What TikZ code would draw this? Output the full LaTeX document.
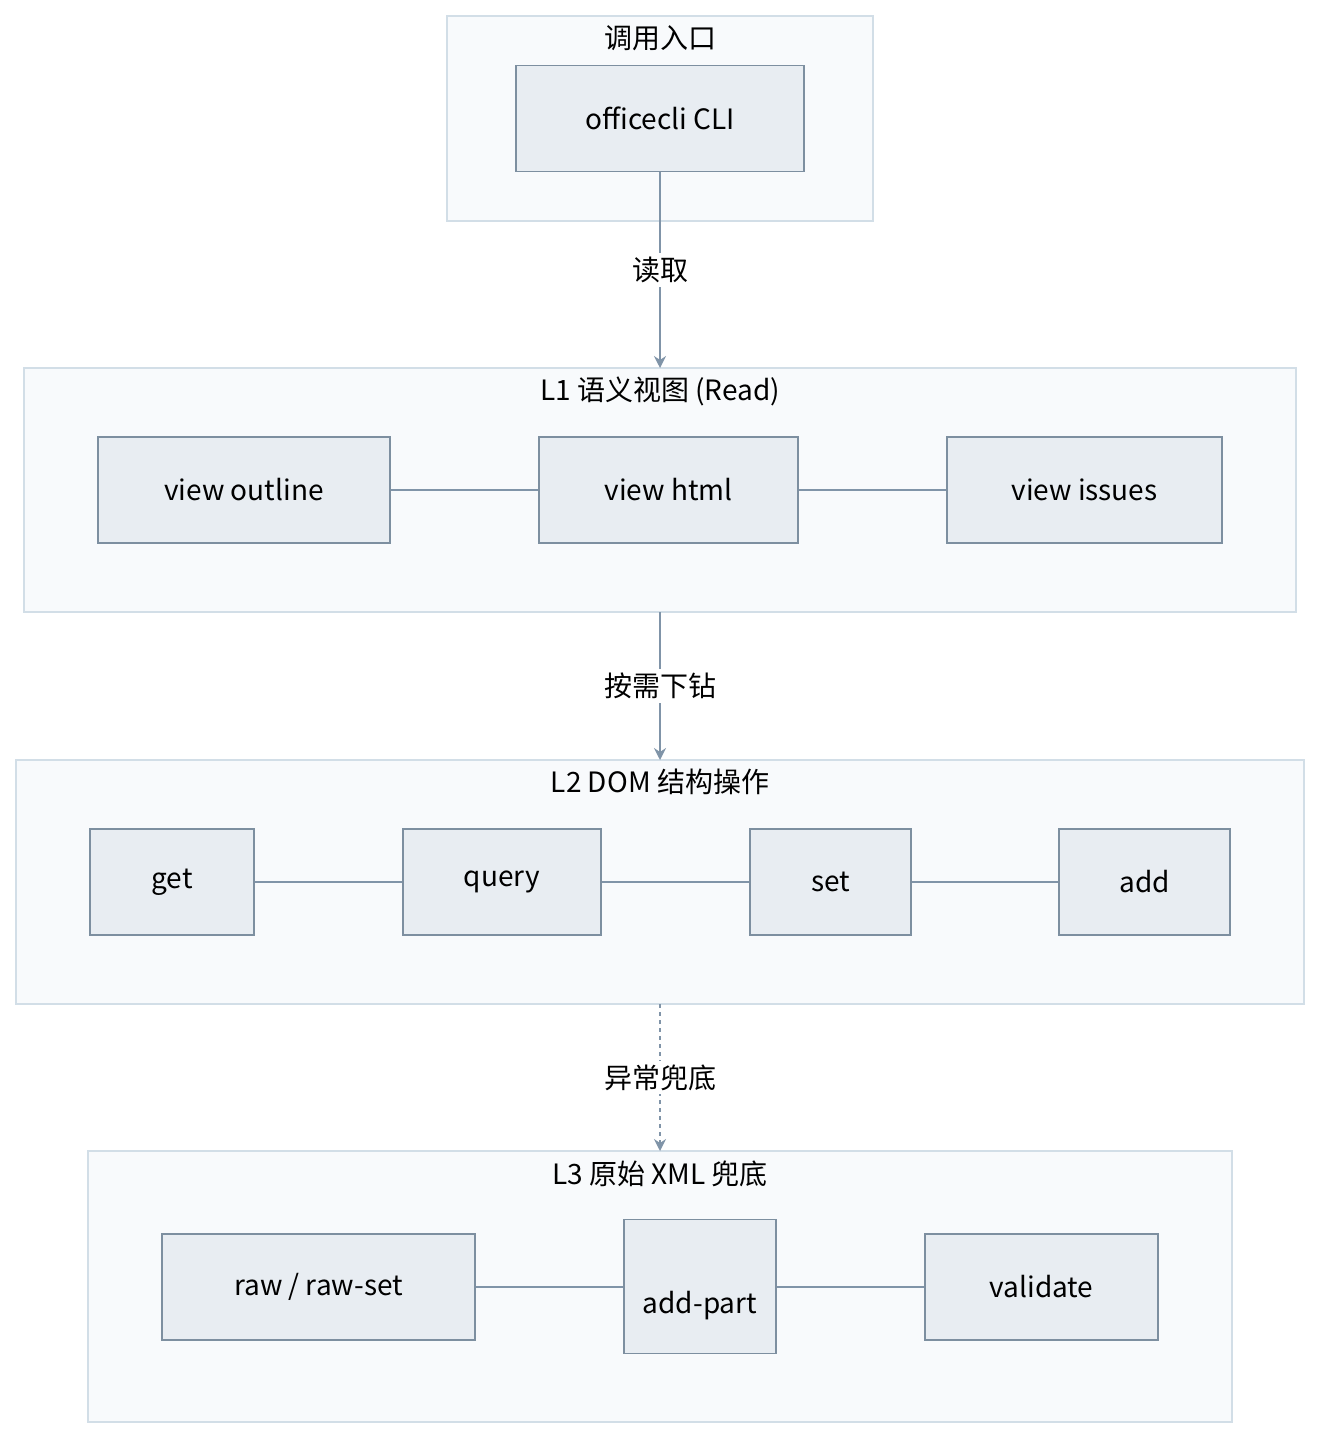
\documentclass[tikz,border=0pt]{standalone}
\usepackage{fontspec}
\setmainfont{Noto Sans CJK SC}
\usetikzlibrary{shapes.geometric,arrows.meta}
\definecolor{cfill}{HTML}{F8FAFC}
\definecolor{cline}{HTML}{D2DEE7}
\definecolor{nfill}{HTML}{E8EDF2}
\definecolor{nline}{HTML}{7D8FA0}
\definecolor{eline}{HTML}{8094A8}
\begin{document}
\begin{tikzpicture}[x=0.5pt,y=-0.5pt,
  font=\fontsize{14}{16}\selectfont,
  cont/.style={draw=cline,fill=cfill,line width=0.8pt},
  box/.style={draw=nline,fill=nfill,line width=0.7pt,minimum height=53pt,inner sep=0pt},
  link/.style={draw=eline,line width=0.7pt},
  flow/.style={draw=eline,line width=0.7pt,-{Stealth[length=6pt,width=6pt]}},
  lab/.style={fill=white,inner sep=2pt}]
\useasboundingbox (0,0) rectangle (1336,1456);
\draw[cont] (447,16) rectangle (873,221);
\coordinate (T) at (660,221);
\node at (660,38) {调用入口};
\node[box,minimum width=144pt] (cli) at (660,118.5) {officecli CLI};

\draw[cont] (24,368) rectangle (1296,612);
\coordinate (L1n) at (660,368); \coordinate (L1s) at (660,612);
\node at (660,391) {L1 语义视图 (Read)};
\node[box,minimum width=146pt] (vo) at (244,490) {view outline};
\node[box,minimum width=129.5pt] (vh) at (668.5,490) {view html};
\node[box,minimum width=137.5pt] (vi) at (1084.5,490) {view issues};

\draw[cont] (16,760) rectangle (1304,1004);
\coordinate (L2n) at (660,760); \coordinate (L2s) at (660,1004);
\node at (660,782) {L2 DOM 结构操作};
\node[box,minimum width=82pt] (get) at (172,882) {get};
\node[box,minimum width=99pt] (query) at (502,882) {query};
\node[box,minimum width=80.5pt] (set) at (830.5,882) {set};
\node[box,minimum width=85.5pt] (add) at (1144.5,882) {add};

\draw[cont] (88,1151) rectangle (1232,1422);
\coordinate (L3n) at (660,1151);
\node at (660,1174) {L3 原始 XML 兜底};
\node[box,minimum width=156.5pt] (raw) at (318.5,1287) {raw / raw-set};
\node[draw=nline,fill=nfill,line width=0.7pt,cylinder,shape border rotate=90,aspect=0.25,
  minimum width=76pt,minimum height=67pt,inner sep=0pt] (ap) at (700,1287) {};
\node at (700,1306) {add-part};
\node[box,minimum width=116.5pt] (val) at (1041.5,1287) {validate};

\draw[link] (vo) -- (vh); \draw[link] (vh) -- (vi);
\draw[link] (get) -- (query); \draw[link] (query) -- (set); \draw[link] (set) -- (add);
\draw[link] (raw.east) -- (ap.west); \draw[link] (ap.east) -- (val.west);

\draw[flow] (cli.south) -- node[lab]{读取} (L1n);
\draw[flow] (L1s) -- node[lab]{按需下钻} (L2n);
\draw[flow,dash pattern=on 2pt off 2pt] (L2s) -- node[lab]{异常兜底} (L3n);
\end{tikzpicture}
\end{document}
